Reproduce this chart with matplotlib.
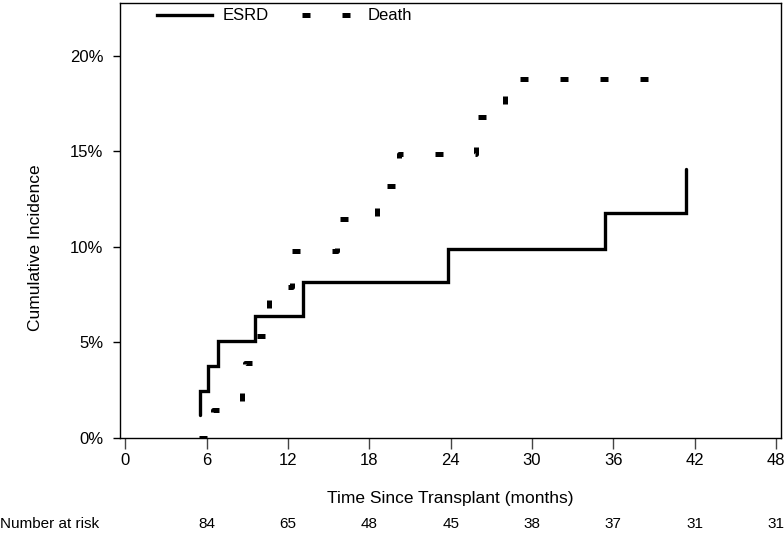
import matplotlib.pyplot as plt
from matplotlib.lines import Line2D

plt.rcParams['font.family'] = ['Liberation Sans', 'DejaVu Sans']

# ESRD cumulative incidence (step points, months / percent)
esrd_t = [5.5, 5.5, 6.1, 6.86, 9.6, 13.08, 23.8, 35.4, 41.35]
esrd_v = [1.2, 2.46, 3.77, 5.06, 6.39, 8.13, 9.86, 11.78, 14.05]

# Death cumulative incidence
death_t = [5.45, 6.44, 8.6, 8.8, 9.6, 10.4, 10.6, 12.3, 15.6, 18.6, 20.2, 25.9, 28.0, 39.4]
death_v = [0, 1.45, 2.5, 3.9, 5.3, 6.6, 7.9, 9.77, 11.43, 13.2, 14.87, 16.78, 18.76, 18.76]

# number at risk row
risk_t = [6, 12, 18, 24, 30, 36, 42, 48]
risk_n = [84, 65, 48, 45, 38, 37, 31, 31]

xticks = list(range(0, 49, 6))
yticks = [0, 5, 10, 15, 20]

W, H = 784, 534
fig = plt.figure(figsize=(W / 100, H / 100), dpi=100)
ax = fig.add_axes([120 / W, (H - 437.7) / H, 661 / W, 434.7 / H])

lw_esrd = 2.4
lw_death = 3.6
death_ls = (0, (1.6, 6.4))

ax.step(esrd_t, esrd_v, where='post', color='black', lw=lw_esrd,
        solid_capstyle='round', solid_joinstyle='miter')
ax.step(death_t, death_v, where='post', color='black', lw=lw_death,
        linestyle=death_ls, dash_capstyle='butt')

ax.set_xlim(-0.39, 48.37)
ax.set_ylim(0, 22.76)
ax.set_xticks(xticks)
ax.set_xticklabels([str(x) for x in xticks])
ax.set_yticks(yticks)
ax.set_yticklabels([f'{y}%' for y in yticks])
ax.tick_params(axis='x', length=8, width=1, labelsize=12, pad=3, color='#444444')
ax.tick_params(axis='y', length=5, width=1, labelsize=12, pad=7)
for s in ax.spines.values():
    s.set_linewidth(1.0)

ax.set_xlabel('Time Since Transplant (months)', fontsize=12.5)
ax.xaxis.label.set_va('center')
ax.xaxis.set_label_coords(0.5, (437.7 - 498) / 434.7)
ax.set_ylabel('Cumulative Incidence', fontsize=12.5)
ax.yaxis.label.set_va('center')
ax.yaxis.set_label_coords((36 - 120) / 661, (437.7 - 248) / 434.7)

handles = [Line2D([], [], color='black', lw=lw_esrd),
           Line2D([], [], color='black', lw=lw_death, linestyle=death_ls,
                  dash_capstyle='butt')]
ax.legend(handles, ['ESRD', 'Death'], loc='upper left',
          bbox_to_anchor=((157 - 120) / 661, 1 - 5.5 / 434.7),
          ncol=2, frameon=False, fontsize=12, borderpad=0, borderaxespad=0,
          handlelength=3.3, handletextpad=0.63, columnspacing=2.0)

fig.text(0.0, (H - 524) / H, 'Number at risk', ha='left', va='center',
         fontsize=11)
for t, n in zip(risk_t, risk_n):
    ax.text(t, (437.7 - 524) / 434.7, str(n), transform=ax.get_xaxis_transform(),
            ha='center', va='center', fontsize=11, clip_on=False)

fig.savefig('out.png', dpi=100)
